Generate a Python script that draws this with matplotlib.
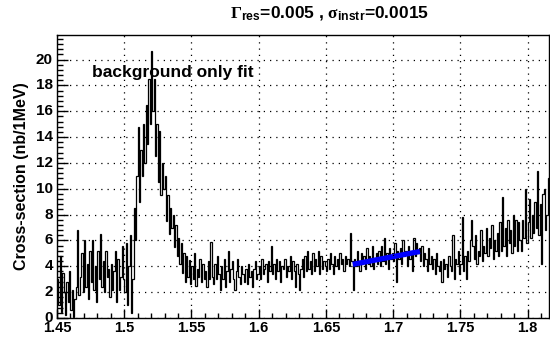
import numpy as np
import matplotlib
matplotlib.use("Agg")
import matplotlib.pyplot as plt
from matplotlib.ticker import MultipleLocator, FuncFormatter

# histogram: 1 MeV bins starting at 1.450 GeV
bin_start = 1.450
bin_width = 0.001
counts = [
    3.0, 1.0, 4.8, 0.5, 3.5, 2.0, 0.2, 2.8, 1.2, 3.6,   # 1.450
    0.6, 2.2, 0.1, 1.5, 2.4, 6.8, 1.8, 3.2, 5.0, 2.0,   # 1.460
    6.0, 2.4, 4.2, 1.5, 5.2, 2.8, 6.0, 2.2, 4.0, 1.2,   # 1.470
    5.2, 3.0, 6.5, 2.4, 4.4, 2.0, 5.2, 3.2, 3.8, 1.6,   # 1.480
    4.2, 2.2, 3.6, 5.2, 1.2, 4.6, 2.2, 3.2, 5.6, 3.0,   # 1.490
    2.0, 5.8, 1.0, 4.0, 6.4, 0.4, 3.0, 8.5, 6.0, 11.0,  # 1.500
    14.8, 9.0, 13.0, 11.0, 15.0, 12.0, 16.5, 13.5, 18.5, 15.0,  # 1.510
    20.7, 16.0, 18.5, 12.5, 15.0, 10.5, 14.5, 9.5, 12.0, 10.0,  # 1.520
    11.0, 7.5, 9.5, 6.5, 8.5, 7.0, 8.0, 5.5, 7.2, 4.8,  # 1.530
    6.2, 4.2, 5.8, 3.5, 5.0, 2.8, 4.8, 3.2, 4.5, 2.6,   # 1.540
    4.0, 3.0, 5.0, 2.5, 3.8, 3.2, 4.6, 2.8, 4.2, 3.0,   # 1.550
    3.6, 2.4, 4.4, 3.0, 5.9, 3.2, 2.6, 4.2, 3.0, 4.8,   # 1.560
    3.4, 2.2, 4.0, 3.0, 4.6, 2.4, 3.6, 5.2, 2.8, 3.8,   # 1.570
    4.4, 3.0, 2.2, 3.6, 4.6, 3.2, 2.6, 4.0, 3.4, 2.8,   # 1.580
    3.8, 2.6, 4.2, 3.2, 3.6, 2.4, 3.8, 4.4, 3.0, 3.4,   # 1.590
    4.0, 3.0, 4.6, 3.4, 3.8, 4.2, 2.8, 4.4, 3.6, 5.6,   # 1.600
    3.4, 4.2, 3.0, 4.6, 3.6, 4.4, 2.8, 4.0, 3.8, 4.6,   # 1.610
    3.2, 4.0, 3.6, 4.8, 3.0, 4.4, 3.6, 2.4, 4.2, 3.4,   # 1.620
    2.2, 3.8, 4.6, 3.2, 4.8, 3.6, 5.2, 3.8, 4.4, 3.4,   # 1.630
    5.0, 3.6, 4.6, 4.0, 5.2, 3.4, 4.8, 3.8, 4.4, 4.0,   # 1.640
    3.6, 4.6, 3.8, 5.0, 4.2, 3.4, 4.8, 4.0, 4.6, 3.8,   # 1.650
    5.0, 4.2, 4.6, 3.6, 4.8, 4.2, 4.6, 4.0, 6.6, 4.4,   # 1.660
    2.2, 4.6, 4.0, 5.2, 4.4, 3.6, 5.0, 4.2, 4.8, 3.8,   # 1.670
    5.4, 4.2, 4.8, 4.0, 5.6, 3.8, 4.6, 5.0, 4.2, 5.2,   # 1.680
    4.0, 5.6, 4.4, 6.2, 4.2, 5.0, 3.8, 5.4, 4.6, 5.0,   # 1.690
    4.4, 5.8, 2.8, 5.2, 4.6, 5.4, 4.2, 6.0, 4.8, 5.2,   # 1.700
    4.0, 5.6, 4.6, 5.2, 3.6, 6.2, 4.8, 5.8, 5.0, 5.4,   # 1.710
    4.4, 5.6, 4.0, 5.0, 4.6, 3.6, 5.4, 4.2, 4.8, 3.8,   # 1.720
    4.6, 3.4, 5.0, 4.0, 3.6, 4.4, 2.8, 4.6, 3.8, 4.2,   # 1.730
    3.2, 4.8, 4.0, 3.6, 6.4, 3.0, 4.6, 4.2, 5.2, 3.4,   # 1.740
    4.2, 7.8, 3.6, 4.8, 3.0, 5.2, 4.4, 6.0, 7.6, 5.6,   # 1.750
    4.6, 6.4, 4.2, 5.2, 4.8, 6.8, 4.4, 5.6, 5.0, 7.0,   # 1.760
    4.8, 6.2, 5.4, 7.2, 4.6, 6.0, 5.2, 6.6, 4.8, 7.4,   # 1.770
    5.2, 9.4, 5.6, 7.0, 4.8, 7.6, 5.8, 6.8, 5.0, 8.0,   # 1.780
    5.6, 7.6, 5.2, 7.4, 6.0, 5.2, 7.6, 6.2, 10.0, 5.8,  # 1.790
    7.4, 9.2, 6.2, 8.0, 6.6, 9.0, 7.0, 11.4, 6.4, 8.8,  # 1.800
    4.2, 9.6, 10.0, 6.8, 8.0, 10.8,                     # 1.810
]

# background-only fit, drawn over its fit range
fit_x = [1.670, 1.720]
fit_y = [4.15, 5.15]

plt.rcParams['font.family'] = ['Liberation Sans', 'DejaVu Sans']
plt.rcParams['font.weight'] = 'bold'
plt.rcParams['mathtext.fontset'] = 'custom'
plt.rcParams['mathtext.rm'] = 'Liberation Serif'
plt.rcParams['mathtext.it'] = 'Liberation Serif'
plt.rcParams['mathtext.bf'] = 'Liberation Sans:bold'

fig = plt.figure(figsize=(5.5, 3.38), dpi=100)
ax = fig.add_axes([0.1036, 0.0592, 0.8946, 0.8372])

edges = bin_start + bin_width * np.arange(len(counts) + 1)
ax.stairs(counts, edges, color='black', linewidth=0.9, baseline=None)
ax.plot(fit_x, fit_y, color='#0000ff', linewidth=3.8, solid_capstyle='butt')

ax.set_xlim(1.45, 1.816)
ax.set_ylim(0, 21.9)

ax.xaxis.set_major_locator(MultipleLocator(0.05))
ax.xaxis.set_minor_locator(MultipleLocator(0.01))
ax.yaxis.set_major_locator(MultipleLocator(2))
ax.yaxis.set_minor_locator(MultipleLocator(0.4))
ax.xaxis.set_major_formatter(FuncFormatter(lambda v, p: '%g' % round(v, 3)))
ax.yaxis.set_major_formatter(FuncFormatter(lambda v, p: '%g' % v))

ax.tick_params(axis='both', which='both', direction='in', top=False, right=False,
               labelsize=11, width=1.0)
ax.tick_params(axis='y', which='major', length=8, pad=3)
ax.tick_params(axis='y', which='minor', length=4)
ax.tick_params(axis='x', which='major', length=6.5, pad=2, labelsize=10.5)
ax.tick_params(axis='x', which='minor', length=3.5)
for lab in ax.get_xticklabels() + ax.get_yticklabels():
    lab.set_fontweight('bold')
ylabels = ax.get_yticklabels()
for lab in ylabels:
    lab.set_verticalalignment('center')
# lift the "0" a little so it clears the "1.45" below it
ylabels[0].set_verticalalignment('bottom')

ax.grid(True, which='major', color='black', linestyle=(0, (1, 4)), linewidth=0.9)
ax.set_axisbelow(False)
for sp in ax.spines.values():
    sp.set_linewidth(1.0)

ax.set_ylabel('Cross-section (nb/1MeV)', fontsize=11.5, fontweight='bold', labelpad=5)

ax.text(0.071, 0.867, 'background only fit', transform=ax.transAxes,
        fontsize=12.5, fontweight='bold', ha='left', va='center')

fig.text(0.60, 0.963,
         r'$\Gamma_{\mathbf{res}}$=0.005 , $\sigma_{\mathbf{instr}}$=0.0015',
         fontsize=12.5, fontweight='bold', ha='center', va='center')

fig.savefig('out.png', dpi=100)
